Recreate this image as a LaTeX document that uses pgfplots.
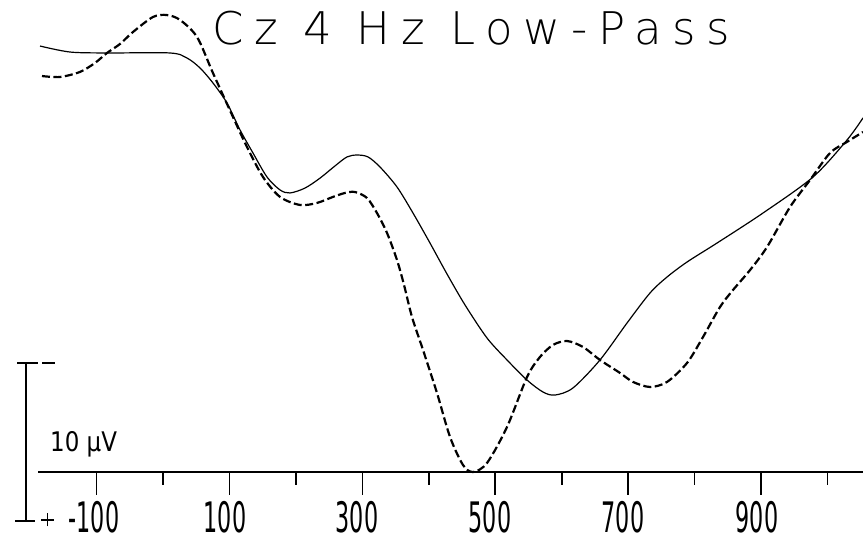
\documentclass[border=0pt]{standalone}
\usepackage{fontspec}
\setmainfont{DejaVu Sans}
\newfontfamily\titlefont[LetterSpace=24]{DejaVuSans-ExtraLight.ttf}
\usepackage{pgfplots}
\pgfplotsset{compat=1.18}
\begin{document}
\begin{tikzpicture}
\path[use as bounding box] (0,0) rectangle (863pt,543pt);
\begin{axis}[scale only axis, width=863pt, height=543pt,
  xmin=-245.3, xmax=1053.4, ymin=-4.494, ymax=29.873,
  hide axis, clip=false]
% baseline
\addplot[black, line width=2pt] coordinates {(-188,0) (1053.4,0)};
% long ticks
\addplot[ycomb, black, line width=1.6pt] coordinates {(-100,-1.46) (100,-1.46) (300,-1.46) (500,-1.46) (700,-1.46) (900,-1.46)};
% short ticks
\addplot[ycomb, black, line width=1.6pt] coordinates {(0,-0.82) (200,-0.82) (400,-0.82) (600,-0.82) (800,-0.82) (1000,-0.82)};
% solid curve
\addplot[black, line width=1.2pt, smooth] coordinates {
(-185.1,26.96) (-140.0,26.58) (-84.3,26.52) (10.5,26.52) (36.1,26.20)
(55.7,25.57) (75.2,24.62) (96.3,23.35) (115.9,21.65) (135.4,20.19)
(156.5,18.67) (176.1,17.85) (191.1,17.66) (213.7,17.97) (236.3,18.60)
(258.8,19.37) (276.9,19.94) (291.9,20.06) (308.5,19.94) (326.6,19.30)
(352.1,18.04) (376.2,16.39) (401.8,14.49) (427.4,12.53) (454.5,10.57)
(487.6,8.48) (517.7,7.09) (547.8,5.82) (571.9,5.06) (589.9,4.87)
(617.0,5.32) (657.6,7.09) (698.3,9.43) (732.9,11.33) (758.5,12.34)
(788.6,13.29) (833.7,14.49) (902.9,16.39) (978.2,18.67) (1029.3,21.01)
(1053.4,22.41)};
% dashed curve
\addplot[black, line width=2.2pt, smooth, dash pattern=on 8pt off 3.5pt] coordinates {
(-182.1,25.06) (-155.0,25.00) (-124.9,25.32) (-102.3,25.89) (-84.3,26.52)
(-64.7,27.09) (-45.1,27.85) (-15.0,28.80) (6.0,28.92) (25.6,28.61)
(51.2,27.53) (75.2,25.25) (105.3,22.47) (126.4,20.57) (150.5,18.67)
(176.1,17.41) (206.2,16.90) (231.8,17.03) (255.8,17.41) (273.9,17.66)
(288.9,17.72) (307.0,17.34) (322.0,16.39) (337.1,15.13) (352.1,13.42)
(362.7,11.84) (374.7,9.81) (391.3,7.72) (412.3,5.00) (431.9,2.22)
(451.5,0.44) (466.5,0.00) (487.6,0.57) (517.7,2.85) (547.8,6.01)
(567.3,7.28) (586.9,8.04) (608.0,8.29) (632.1,7.91) (657.6,7.09)
(687.7,6.27) (707.3,5.70) (732.9,5.38) (758.5,5.70) (788.6,6.90)
(812.6,8.54) (838.2,10.44) (857.8,11.52) (883.4,12.78) (909.0,14.24)
(943.6,16.77) (973.7,18.48) (1003.8,20.19) (1029.3,20.89) (1053.4,21.52)};
\end{axis}
% title
\node[anchor=base west, inner sep=0pt] at (212pt,498pt) {\titlefont\fontsize{45}{45}\selectfont Cz 4 Hz Low-Pass};
% tick labels
\foreach \px/\lab in {94/-100, 225/100, 357/300, 490/500, 623/700, 757/900}{
  \node[anchor=north, inner sep=0pt] at (\px pt,42pt) {\scalebox{0.53}[1]{\fontsize{42}{42}\selectfont \lab}};
}
% scale bar
\node[anchor=base west, inner sep=0pt] at (50pt,91pt) {\scalebox{0.85}[1]{\fontsize{27}{27}\selectfont 10 µV}};
\draw[line width=1.5pt] (26pt,180pt) -- (26pt,22pt);
\draw[line width=1.5pt] (17pt,180pt) -- (38pt,180pt);
\draw[line width=1.5pt] (42pt,180pt) -- (55pt,180pt);
\draw[line width=1.5pt] (15pt,22pt) -- (35pt,22pt);
\draw[line width=1.8pt] (41pt,23pt) -- (54pt,23pt);
\draw[line width=1.8pt] (47.5pt,16.5pt) -- (47.5pt,29.5pt);
\end{tikzpicture}
\end{document}
